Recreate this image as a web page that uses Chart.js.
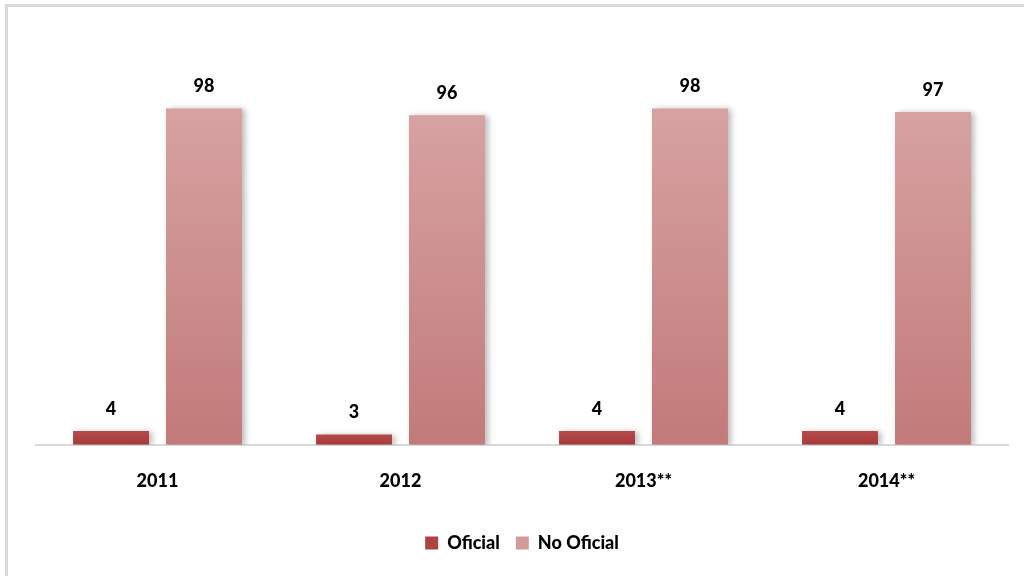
<!DOCTYPE html>
<html>
<head>
<meta charset="utf-8">
<script src="https://cdn.jsdelivr.net/npm/chart.js@4"></script>
<style>
    html, body { margin: 0; padding: 0; background: #fff; }
    #wrap { position: relative; width: 1024px; height: 576px; overflow: hidden; }
    #frame {
        position: absolute; left: 5px; top: 4px; width: 1100px; height: 700px;
        border-top: 3px solid #dadada; border-left: 3px solid #dadada;
    }
    canvas { position: absolute; left: 0; top: 0; }
</style>
</head>
<body>
<div id="wrap">
    <div id="frame"></div>
    <canvas id="chart" width="1024" height="576"></canvas>
</div>
<script>
// datos del gráfico
const years = ['2011', '2012', '2013**', '2014**'];
const oficial = [4, 3, 4, 4];
const noOficial = [98, 96, 98, 97];

const FUENTE = { family: 'Lato', weight: '900', size: 18 };

// degradado por barra (arriba claro, abajo oscuro)
function barGradient(top, bottom) {
    return function (context) {
        const chart = context.chart;
        const yScale = chart.scales.y;
        if (!chart.chartArea || !yScale || context.raw === undefined) return bottom;
        const y0 = yScale.getPixelForValue(context.raw);
        const y1 = yScale.getPixelForValue(0);
        const g = chart.ctx.createLinearGradient(0, y0, 0, y1);
        g.addColorStop(0, top);
        g.addColorStop(1, bottom);
        return g;
    };
}

const sombra = {
    id: 'sombra',
    beforeDatasetDraw: (chart) => {
        const ctx = chart.ctx;
        ctx.save();
        ctx.shadowColor = 'rgba(0,0,0,0.28)';
        ctx.shadowBlur = 6;
        ctx.shadowOffsetX = 3;
        ctx.shadowOffsetY = 1;
    },
    afterDatasetDraw: (chart) => {
        chart.ctx.restore();
    }
};

const etiquetas = {
    id: 'etiquetas',
    afterDatasetsDraw: (chart) => {
        const ctx = chart.ctx;
        ctx.save();
        ctx.font = FUENTE.weight + ' ' + FUENTE.size + 'px ' + FUENTE.family;
        ctx.fillStyle = '#000';
        ctx.textAlign = 'center';
        ctx.textBaseline = 'middle';
        chart.data.datasets.forEach((ds, i) => {
            chart.getDatasetMeta(i).data.forEach((bar, j) => {
                ctx.fillText(String(ds.data[j]), bar.x, bar.y - 22);
            });
        });
        ctx.restore();
    }
};

new Chart(document.getElementById('chart'), {
    type: 'bar',
    data: {
        labels: years,
        datasets: [{
            label: 'Oficial',
            data: oficial,
            backgroundColor: barGradient('#b74a4a', '#a63a3a'),
            borderWidth: 0
        }, {
            label: 'No Oficial',
            data: noOficial,
            backgroundColor: barGradient('#d7a2a2', '#c27a7a'),
            borderWidth: 0
        }]
    },
    options: {
        responsive: false,
        animation: false,
        categoryPercentage: 0.765,
        barPercentage: 0.817,
        layout: { padding: { left: 36, right: 16, top: 33, bottom: 14 } },
        scales: {
            x: {
                grid: { display: false, drawTicks: false },
                border: { display: true, color: '#d9d9d9', width: 2 },
                ticks: { color: '#000', font: { ...FUENTE, lineHeight: 0.85 }, padding: 29 }
            },
            y: { display: false, min: 0, max: 120 }
        },
        plugins: {
            legend: {
                position: 'bottom',
                labels: {
                    color: '#000',
                    font: FUENTE,
                    boxWidth: 13,
                    boxHeight: 13,
                    padding: 16,
                    generateLabels: (chart) => [
                        { text: 'Oficial', fillStyle: '#ad4343', strokeStyle: '#ad4343', lineWidth: 0, datasetIndex: 0 },
                        { text: 'No Oficial', fillStyle: '#d49a9a', strokeStyle: '#d49a9a', lineWidth: 0, datasetIndex: 1 }
                    ]
                }
            },
            tooltip: { enabled: false }
        }
    },
    plugins: [sombra, etiquetas]
});
</script>
</body>
</html>
